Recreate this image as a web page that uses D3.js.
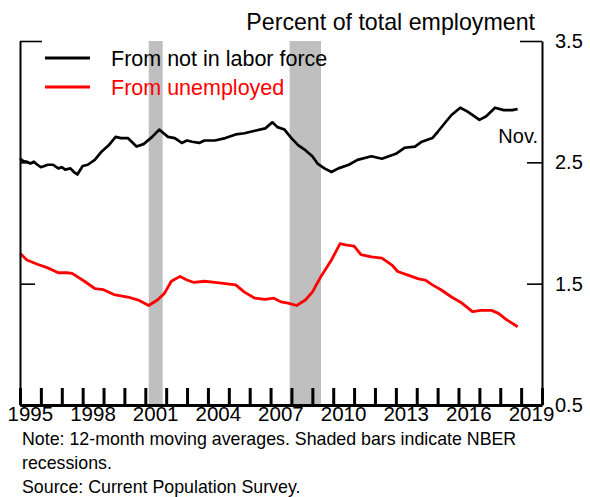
<!DOCTYPE html>
<html>
<head>
<meta charset="utf-8">
<script src="https://cdn.jsdelivr.net/npm/d3@7"></script>
<style>
  html, body { margin: 0; padding: 0; background: #fff; }
  svg { display: block; }
  text { font-family: "Liberation Sans", Arial, Helvetica, sans-serif; }
</style>
</head>
<body>
<svg id="chart" width="590" height="497"></svg>
<script>
// ---- Data (12-month moving averages, percent of total employment) ----
const nilfDates = ["1995-01","1995-03","1995-05","1995-07","1995-09","1995-11","1996-01","1996-03","1996-05","1996-08","1996-11","1997-01","1997-03","1997-06","1997-08","1997-10",
  "1998-01","1998-04","1998-08","1998-12","1999-04","1999-08","1999-11","2000-03","2000-08","2000-12",
  "2001-05","2001-09","2002-02","2002-06","2002-10","2003-01","2003-04","2003-08","2003-11","2004-05","2004-11","2005-05",
  "2005-10","2006-04","2006-10","2007-02","2007-05","2007-09","2008-01","2008-05","2008-09","2009-01",
  "2009-04","2009-08","2009-12","2010-04","2010-10","2011-03","2011-11","2012-05","2013-01","2013-06",
  "2013-12","2014-04","2014-10","2015-01","2015-05","2015-09","2016-02","2016-06","2016-10","2017-01",
  "2017-05","2017-10","2018-03","2018-08","2018-11"];
const nilfValues = [2.53,2.51,2.505,2.49,2.505,2.48,2.46,2.47,2.48,2.48,2.45,2.46,2.44,2.45,2.42,2.40,
  2.47,2.48,2.52,2.59,2.64,2.71,2.70,2.70,2.63,2.65,
  2.71,2.77,2.71,2.70,2.66,2.68,2.67,2.66,2.68,2.68,2.70,2.73,
  2.74,2.76,2.78,2.83,2.79,2.77,2.70,2.64,2.60,2.55,
  2.49,2.45,2.42,2.45,2.48,2.52,2.55,2.53,2.57,2.62,
  2.63,2.67,2.70,2.75,2.82,2.89,2.95,2.92,2.88,2.85,
  2.88,2.95,2.93,2.93,2.94];

const unempDates = ["1995-01","1995-05","1995-11","1996-05","1996-11","1997-04","1997-07","1998-02","1998-08","1999-01",
  "1999-07","2000-03","2000-09","2001-03","2001-08","2001-12","2002-04","2002-09","2003-01","2003-05",
  "2003-11","2004-05","2004-11","2005-05","2005-10","2006-04","2006-10","2007-03","2007-07","2007-11",
  "2008-04","2008-09","2009-01","2009-06","2009-12","2010-05","2010-08","2011-01","2011-05","2011-11",
  "2012-05","2012-11","2013-02","2013-08","2014-02","2014-06","2014-10","2015-03","2015-09","2016-03",
  "2016-09","2017-02","2017-08","2017-12","2018-05","2018-11"];
const unempValues = [1.75,1.695,1.66,1.63,1.59,1.59,1.585,1.52,1.46,1.45,
  1.41,1.39,1.365,1.32,1.365,1.42,1.52,1.56,1.53,1.51,
  1.52,1.51,1.50,1.49,1.43,1.38,1.37,1.38,1.35,1.34,
  1.32,1.365,1.43,1.56,1.695,1.83,1.82,1.81,1.74,1.72,
  1.71,1.65,1.60,1.57,1.54,1.53,1.49,1.45,1.39,1.34,
  1.27,1.28,1.28,1.255,1.20,1.145];

const recessionStarts = ["2001-03","2007-12"];
const recessionEnds   = ["2001-11","2009-06"];

const xLabels = ["1995","1998","2001","2004","2007","2010","2013","2016","2019"];
const yTicks = [0.5, 1.5, 2.5, 3.5];

const seriesNames = ["From not in labor force","From unemployed"];
const seriesColors = ["#000000","#ff0000"];

// ---- Setup ----
const parseM = d3.timeParse("%Y-%m");
const svg = d3.select("#chart");
const mLeft = 20, mRight = 542, mTop = 41, mBottom = 405;

const x = d3.scaleTime()
  .domain([new Date(1995,0,1), new Date(2020,0,1)])
  .range([mLeft, mRight]);
const y = d3.scaleLinear().domain([0.5, 3.5]).range([mBottom, mTop]);

// recession bars
svg.append("g").selectAll("rect")
  .data(recessionStarts.map((s,i)=>({s:parseM(s), e:parseM(recessionEnds[i])})))
  .join("rect")
  .attr("x", d => x(d.s))
  .attr("width", d => x(d.e) - x(d.s))
  .attr("y", mTop)
  .attr("height", mBottom - mTop)
  .attr("fill", "#bfbfbf");

// lines
const line = d3.line().x(d => x(d.date)).y(d => y(d.value));
const nilf = nilfDates.map((d,i)=>({date:parseM(d), value:nilfValues[i]}));
const unemp = unempDates.map((d,i)=>({date:parseM(d), value:unempValues[i]}));

svg.append("path").datum(nilf).attr("d", line)
  .attr("fill","none").attr("stroke",seriesColors[0]).attr("stroke-width",2.7).attr("stroke-linejoin","round");
svg.append("path").datum(unemp).attr("d", line)
  .attr("fill","none").attr("stroke",seriesColors[1]).attr("stroke-width",2.8).attr("stroke-linejoin","round");

// left axis
const gL = svg.append("g").attr("transform",`translate(${mLeft},0)`)
  .call(d3.axisLeft(y).tickValues(yTicks).tickSize(-15).tickSizeOuter(0).tickFormat(""));
// right axis
const gR = svg.append("g").attr("transform",`translate(${mRight},0)`)
  .call(d3.axisRight(y).tickValues(yTicks).tickSize(-15).tickSizeOuter(0).tickPadding(13).tickFormat(d3.format(".1f")));
[gL, gR].forEach(g => {
  g.select(".domain").attr("stroke","#000").attr("stroke-width",2);
  g.selectAll(".tick line").attr("stroke","#000").attr("stroke-width",1.6);
});
gR.selectAll(".tick").filter(d => d === 3.5).select("line").attr("x2", -22);
gL.selectAll(".tick").filter(d => d === 3.5).select("line").attr("x2", 22);
gR.selectAll(".tick text")
  .attr("font-size", 20).attr("fill","#000")
  .attr("font-family","Liberation Sans, Arial, sans-serif");

// bottom axis
const gB = svg.append("g").attr("transform",`translate(0,${mBottom})`)
  .call(d3.axisBottom(x).ticks(d3.timeYear.every(1)).tickSize(-17).tickSizeOuter(0).tickFormat(""));
gB.select(".domain").attr("stroke","#000").attr("stroke-width",3);
gB.selectAll(".tick line").attr("stroke","#000").attr("stroke-width",3);

svg.append("g").selectAll("text")
  .data(xLabels)
  .join("text")
  .attr("x", d => x(new Date(+d, 6, 1)))
  .attr("y", 421)
  .attr("text-anchor","middle")
  .attr("font-size", 20.5)
  .text(d => d);

// title
svg.append("text").attr("x", 535).attr("y", 30).attr("text-anchor","end")
  .attr("font-size", 23.2).text("Percent of total employment");

// legend
const legY = [58, 87];
seriesNames.forEach((n,i) => {
  svg.append("line").attr("x1",45).attr("x2",90).attr("y1",legY[i]).attr("y2",legY[i])
    .attr("stroke",seriesColors[i]).attr("stroke-width",3);
  svg.append("text").attr("x",111).attr("y",legY[i]+8).attr("font-size",21.5)
    .attr("fill",seriesColors[i]).text(n);
});

// Nov. annotation
svg.append("text").attr("x",538).attr("y",143).attr("text-anchor","end")
  .attr("font-size",20).text("Nov.");

// notes
const notes = ["Note: 12-month moving averages. Shaded bars indicate NBER","recessions.","Source: Current Population Survey."];
svg.append("g").selectAll("text").data(notes).join("text")
  .attr("x",22).attr("y",(d,i)=>445+i*24)
  .attr("font-size",17.8).text(d=>d);
</script>
</body>
</html>
